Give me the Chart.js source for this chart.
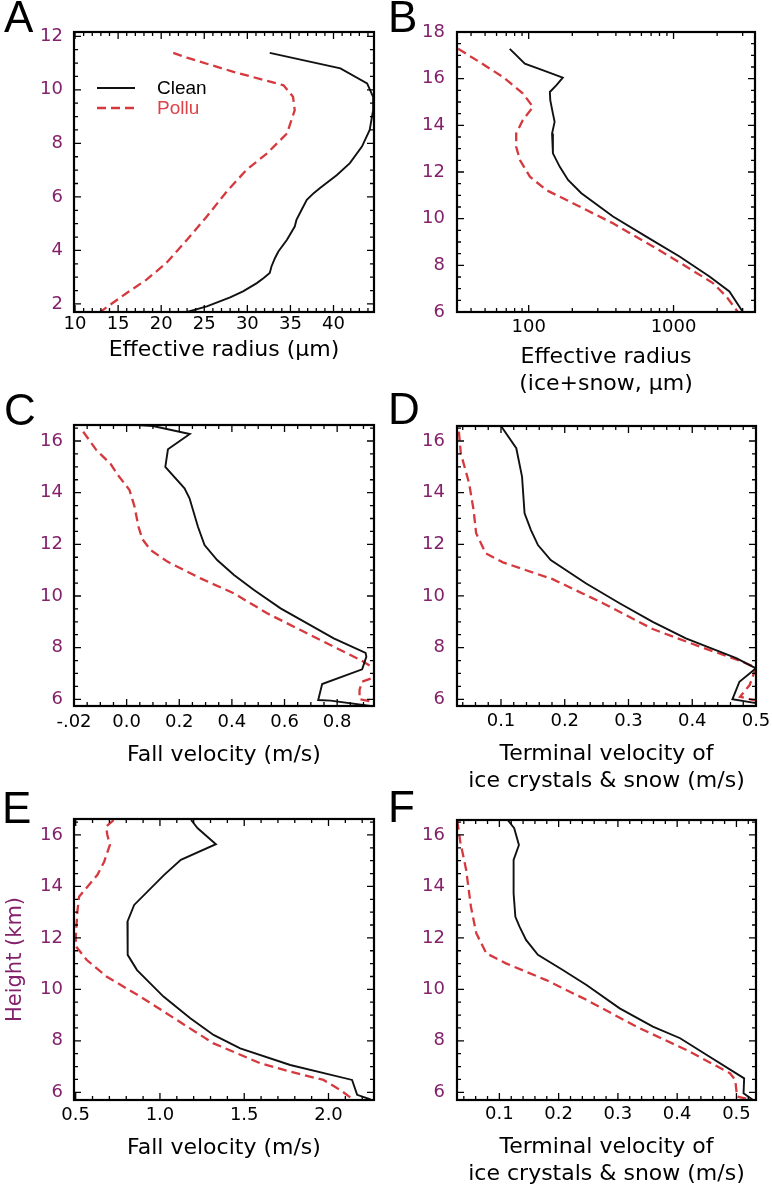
<!DOCTYPE html>
<html>
<head>
<meta charset="utf-8">
<script src="https://cdn.jsdelivr.net/npm/chart.js@4.4.1/dist/chart.umd.min.js"></script>
<style>
  body { margin: 0; background: #fff; }
  #fig { position: relative; width: 772px; height: 1194px; overflow: hidden; }
  #fig canvas { position: absolute; }
  .tag { position: absolute; font: 44px/44px "Liberation Sans", Arial, sans-serif; color: #000; }
</style>
</head>
<body>
<div id="fig">
  <canvas id="pA"></canvas>
  <canvas id="pB"></canvas>
  <canvas id="pC"></canvas>
  <canvas id="pD"></canvas>
  <canvas id="pE"></canvas>
  <canvas id="pF"></canvas>
  <div class="tag" style="left:4px; top:-5px">A</div>
  <div class="tag" style="left:388px; top:-5px">B</div>
  <div class="tag" style="left:4px; top:388px">C</div>
  <div class="tag" style="left:388px; top:387px">D</div>
  <div class="tag" style="left:2px; top:786px">E</div>
  <div class="tag" style="left:388px; top:785px">F</div>
</div>
<script>
// Profils verticaux Clean / Pollu, six panneaux A-F.
// Chaque série = paires [valeur, altitude km].

var aClean = [[32.6, 11.38], [40.8, 10.80], [43.9, 10.24], [44.6, 9.74], [44.6, 9.24], [44.2, 8.50],
  [43.3, 7.88], [41.9, 7.26], [40.4, 6.82], [38.4, 6.32], [37.7, 6.14], [36.9, 5.89], [36.3, 5.52],
  [35.7, 5.14], [35.5, 4.89], [34.6, 4.40], [33.6, 3.96], [33.2, 3.71], [32.8, 3.40], [32.6, 3.16],
  [31.9, 2.97], [31.1, 2.78], [29.5, 2.47], [28.0, 2.25], [25.3, 1.91], [23.0, 1.70]];
var aPollu = [[21.4, 11.38], [23.0, 11.20], [28.4, 10.67], [34.2, 10.17], [35.3, 9.74], [35.5, 9.24],
  [34.6, 8.37], [32.3, 7.63], [29.9, 7.01], [27.6, 6.20], [25.3, 5.27], [23.0, 4.40], [20.6, 3.53],
  [18.3, 2.91], [16.0, 2.41], [13.3, 1.79], [12.9, 1.70]];

var bClean = [[74, 17.28], [80, 17.07], [94, 16.64], [126, 16.36], [172, 16.04], [155, 15.71],
  [140, 15.43], [141, 15.07], [147, 14.50], [151, 14.15], [145, 13.65], [147, 13.08], [147, 12.80],
  [164, 12.22], [187, 11.66], [231, 11.09], [382, 10.09], [648, 9.23], [1100, 8.38], [1770, 7.52],
  [2430, 6.88], [3010, 6.00]];
var bPollu = [[32.6, 17.28], [45.9, 16.71], [66.5, 16.07], [91.4, 15.36], [107, 14.79], [91, 14.22],
  [82, 13.65], [82, 13.08], [87, 12.51], [102, 11.80], [132, 11.23], [202, 10.66], [382, 9.80],
  [720, 8.81], [1220, 7.95], [1870, 7.24], [2310, 6.67], [2780, 6.00]];

var cClean = [[0.04, 16.62], [0.10, 16.58], [0.24, 16.27], [0.157, 15.68], [0.147, 15.00], [0.22, 14.17],
  [0.239, 13.78], [0.271, 12.68], [0.296, 11.97], [0.344, 11.39], [0.408, 10.81], [0.484, 10.23],
  [0.585, 9.52], [0.686, 8.94], [0.787, 8.36], [0.908, 7.80], [0.911, 7.65], [0.895, 7.16],
  [0.743, 6.59], [0.728, 5.97], [0.775, 5.95], [0.927, 5.74]];
var cPollu = [[-0.165, 16.36], [-0.115, 15.65], [-0.06, 15.10], [-0.033, 14.68], [0.011, 14.10],
  [0.03, 13.46], [0.045, 12.68], [0.06, 12.20], [0.091, 11.78], [0.155, 11.33], [0.281, 10.68],
  [0.408, 10.10], [0.534, 9.33], [0.661, 8.68], [0.787, 8.04], [0.889, 7.52], [0.92, 7.33],
  [0.95, 7.13], [0.93, 6.81], [0.895, 6.68], [0.885, 6.36], [0.885, 6.00], [0.94, 5.90]];

var dClean = [[0.100, 16.58], [0.124, 15.72], [0.133, 14.62], [0.137, 13.20], [0.147, 12.55],
  [0.158, 11.97], [0.178, 11.39], [0.233, 10.49], [0.286, 9.72], [0.338, 9.00], [0.390, 8.36],
  [0.469, 7.59], [0.500, 7.20], [0.474, 6.68], [0.463, 6.00], [0.500, 5.85]];
var dPollu = [[0.034, 16.36], [0.037, 15.52], [0.050, 14.36], [0.057, 13.33], [0.061, 12.43],
  [0.076, 11.65], [0.103, 11.30], [0.181, 10.65], [0.260, 9.72], [0.338, 8.72], [0.416, 8.00],
  [0.474, 7.50], [0.500, 7.22], [0.490, 6.55], [0.475, 6.10], [0.500, 5.95]];

var eClean = [[1.185, 16.58], [1.224, 16.26], [1.332, 15.64], [1.124, 15.03], [1.025, 14.45],
  [0.847, 13.28], [0.807, 12.63], [0.807, 11.60], [0.81, 11.34], [0.864, 10.75], [1.021, 9.72],
  [1.180, 8.88], [1.318, 8.23], [1.476, 7.71], [1.773, 7.06], [2.14, 6.48], [2.17, 5.90], [2.25, 5.72]];
var ePollu = [[0.725, 16.58], [0.680, 16.32], [0.688, 16.00], [0.703, 15.61], [0.669, 14.96],
  [0.629, 14.45], [0.570, 13.99], [0.520, 13.60], [0.510, 13.02], [0.507, 12.70], [0.500, 12.00],
  [0.503, 11.66], [0.566, 11.14], [0.685, 10.49], [0.883, 9.72], [1.100, 8.81], [1.318, 7.90],
  [1.595, 7.13], [1.773, 6.80], [1.97, 6.48], [2.07, 6.09], [2.14, 5.75]];

var fClean = [[0.114, 16.58], [0.125, 16.26], [0.133, 15.61], [0.124, 15.03], [0.124, 13.73],
  [0.127, 12.82], [0.134, 12.44], [0.145, 11.92], [0.165, 11.34], [0.207, 10.75], [0.247, 10.17],
  [0.303, 9.26], [0.359, 8.55], [0.405, 8.10], [0.450, 7.45], [0.513, 6.54], [0.512, 5.96], [0.528, 5.70]];
var fPollu = [[0.029, 16.55], [0.030, 16.39], [0.034, 15.74], [0.044, 14.64], [0.052, 13.21],
  [0.061, 12.18], [0.078, 11.40], [0.111, 11.01], [0.179, 10.36], [0.247, 9.59], [0.331, 8.55],
  [0.416, 7.64], [0.489, 6.74], [0.498, 6.48], [0.501, 5.83], [0.518, 5.75]];

// graduations
var aRadiusTicks = [10, 15, 20, 25, 30, 35, 40];
var aHeightTicks = [2, 4, 6, 8, 10, 12];
var bRadiusTicks = [100, 1000];
var bHeightTicks = [6, 8, 10, 12, 14, 16, 18];
var cFallTicks = [-0.2, 0, 0.2, 0.4, 0.6, 0.8];
var cFallLabels = ["-.02", "0.0", "0.2", "0.4", "0.6", "0.8"];
var termTicks = [0.1, 0.2, 0.3, 0.4, 0.5];
var eFallTicks = [0.5, 1, 1.5, 2];
var eFallLabels = ["0.5", "1.0", "1.5", "2.0"];
var heightTicks = [6, 8, 10, 12, 14, 16];

var BLACK = "#111111";
var RED = "#d5393e";
var PURPLE = "#84216b";
var FAMILY = "'DejaVu Sans', sans-serif";

function pts(arr) {
  return arr.map(function (p) { return { x: p[0], y: p[1] }; });
}

// cadre noir + graduations rentrantes sur les 4 côtés
function marks(scale, minor) {
  var out = scale.ticks.map(function (t) { return [t.value, 7]; });
  if (minor === "log") {
    for (var e = Math.floor(Math.log10(scale.min)); e <= Math.ceil(Math.log10(scale.max)); e++) {
      for (var k = 2; k < 10; k++) {
        var v = k * Math.pow(10, e);
        if (v > scale.min && v < scale.max) out.push([v, 4]);
      }
    }
  } else {
    for (var i = Math.ceil(scale.min / minor); i * minor < scale.max; i++) out.push([i * minor, 4]);
  }
  return out;
}

var framePlugin = {
  id: "frame",
  afterDraw: function (chart, args, opts) {
    var ctx = chart.ctx, a = chart.chartArea;
    var xs = chart.scales.x, ys = chart.scales.y;
    ctx.save();
    ctx.strokeStyle = "#000";
    ctx.lineWidth = 1.3;
    ctx.beginPath();
    marks(xs, opts.xMinor).forEach(function (m) {
      var p = xs.getPixelForValue(m[0]);
      ctx.moveTo(p, a.bottom); ctx.lineTo(p, a.bottom - m[1]);
      ctx.moveTo(p, a.top); ctx.lineTo(p, a.top + m[1]);
    });
    marks(ys, opts.yMinor).forEach(function (m) {
      var p = ys.getPixelForValue(m[0]);
      ctx.moveTo(a.left, p); ctx.lineTo(a.left + m[1], p);
      ctx.moveTo(a.right, p); ctx.lineTo(a.right - m[1], p);
    });
    ctx.stroke();
    ctx.lineWidth = 2.2;
    ctx.strokeRect(a.left, a.top, a.right - a.left, a.bottom - a.top);
    ctx.restore();
  }
};

// légende dans la zone du panneau A
var keyPlugin = {
  id: "key",
  afterDraw: function (chart, args, opts) {
    if (!opts.show) return;
    var ctx = chart.ctx, a = chart.chartArea;
    ctx.save();
    ctx.font = "19px 'Liberation Sans', Arial, sans-serif";
    ctx.textBaseline = "middle";
    chart.data.datasets.forEach(function (ds, i) {
      var y = a.top + 56 + i * 20;
      ctx.strokeStyle = ds.borderColor;
      ctx.lineWidth = ds.borderWidth;
      ctx.setLineDash(ds.borderDash || []);
      ctx.beginPath();
      ctx.moveTo(a.left + 23, y);
      ctx.lineTo(a.left + 61, y);
      ctx.stroke();
      ctx.fillStyle = ds.label === "Pollu" ? "#dc4349" : "#000";
      ctx.fillText(ds.label, a.left + 83, y + 1);
    });
    ctx.restore();
  }
};

function panel(id, o) {
  var canvas = document.getElementById(id);
  var W = 386, H = o.titleBottom - o.top;
  canvas.width = W;
  canvas.height = H;
  canvas.style.left = o.left + "px";
  canvas.style.top = o.top + "px";
  var yWidth = o.box[0] - o.left;
  var xHeight = o.titleBottom - o.box[3];

  new Chart(canvas, {
    type: "scatter",
    data: {
      datasets: [
        { label: "Clean", data: pts(o.clean), showLine: true, borderColor: BLACK, borderWidth: 1.9,
          pointRadius: 0, tension: 0 },
        { label: "Pollu", data: pts(o.pollu), showLine: true, borderColor: RED, borderWidth: 2.3,
          borderDash: [9, 5], pointRadius: 0, tension: 0 }
      ]
    },
    options: {
      responsive: false,
      animation: false,
      events: [],
      layout: { padding: { left: 0, top: o.box[1] - o.top, right: o.left + W - o.box[2], bottom: 0 } },
      plugins: {
        legend: { display: false },
        tooltip: { enabled: false },
        frame: { xMinor: o.xMinor, yMinor: 0.5 },
        key: { show: !!o.key }
      },
      scales: {
        x: {
          type: o.xLog ? "logarithmic" : "linear",
          min: o.xMin,
          max: o.xMax,
          grid: { display: false, drawTicks: false },
          border: { display: false },
          afterBuildTicks: function (s) { s.ticks = o.xTicks.map(function (v) { return { value: v }; }); },
          afterFit: function (s) { s.height = xHeight; s.paddingLeft = 0; s.paddingRight = 0; },
          ticks: {
            color: "#000", font: { family: FAMILY, size: 18 }, padding: o.xPad,
            maxRotation: 0, autoSkip: false,
            callback: function (v, i) { return o.xLabels[i]; }
          },
          title: { display: true, text: o.xTitle, color: "#000", padding: 0,
            font: { family: FAMILY, size: 22, lineHeight: 1.2 } }
        },
        y: {
          min: o.yMin,
          max: o.yMax,
          grid: { display: false, drawTicks: false },
          border: { display: false },
          afterBuildTicks: function (s) { s.ticks = o.yTicks.map(function (v) { return { value: v }; }); },
          afterFit: function (s) { s.width = yWidth; s.paddingTop = 0; s.paddingBottom = 0; },
          ticks: { color: PURPLE, font: { family: FAMILY, size: 18 }, padding: o.yPad, autoSkip: false },
          title: { display: !!o.yTitle, text: o.yTitle || "", color: PURPLE, padding: { top: 3, bottom: 0 },
            font: { family: FAMILY, size: 21, lineHeight: 1.2 } }
        }
      }
    },
    plugins: [framePlugin, keyPlugin]
  });
}

var fmt1 = function (v) { return v.toFixed(1); };

panel("pA", {
  left: 0, top: 0, box: [74, 32, 374, 312], titleBottom: 363, xPad: 2, yPad: 11,
  clean: aClean, pollu: aPollu, key: true,
  xMin: 9.88, xMax: 44.7, xTicks: aRadiusTicks, xLabels: aRadiusTicks.map(String), xMinor: 1,
  yMin: 1.70, yMax: 12.16, yTicks: aHeightTicks,
  xTitle: "Effective radius (μm)"
});

panel("pB", {
  left: 386, top: 0, box: [457, 32, 755, 312], titleBottom: 397, xPad: 5, yPad: 12,
  clean: bClean, pollu: bPollu, xLog: true,
  xMin: 32, xMax: 3650, xTicks: bRadiusTicks, xLabels: bRadiusTicks.map(String), xMinor: "log",
  yMin: 6, yMax: 18, yTicks: bHeightTicks,
  xTitle: ["Effective radius", "(ice+snow, μm)"]
});

panel("pC", {
  left: 0, top: 370, box: [74, 425, 374, 706], titleBottom: 768, xPad: 6, yPad: 11,
  clean: cClean, pollu: cPollu,
  xMin: -0.2, xMax: 0.94, xTicks: cFallTicks, xLabels: cFallLabels, xMinor: 0.05,
  yMin: 5.74, yMax: 16.62, yTicks: heightTicks,
  xTitle: "Fall velocity (m/s)"
});

panel("pD", {
  left: 386, top: 370, box: [457, 426, 756, 706], titleBottom: 794, xPad: 5, yPad: 12,
  clean: dClean, pollu: dPollu,
  xMin: 0.031, xMax: 0.5, xTicks: termTicks, xLabels: termTicks.map(fmt1), xMinor: 0.02,
  yMin: 5.74, yMax: 16.58, yTicks: heightTicks,
  xTitle: ["Terminal velocity of", "ice crystals & snow (m/s)"]
});

panel("pE", {
  left: 0, top: 790, box: [74, 819, 374, 1100], titleBottom: 1161, xPad: 5, yPad: 11,
  clean: eClean, pollu: ePollu,
  xMin: 0.49, xMax: 2.27, xTicks: eFallTicks, xLabels: eFallLabels, xMinor: 0.1,
  yMin: 5.70, yMax: 16.62, yTicks: heightTicks,
  xTitle: "Fall velocity (m/s)", yTitle: "Height (km)"
});

panel("pF", {
  left: 386, top: 790, box: [457, 820, 756, 1100], titleBottom: 1187, xPad: 4, yPad: 12,
  clean: fClean, pollu: fPollu,
  xMin: 0.0285, xMax: 0.533, xTicks: termTicks, xLabels: termTicks.map(fmt1), xMinor: 0.02,
  yMin: 5.70, yMax: 16.58, yTicks: heightTicks,
  xTitle: ["Terminal velocity of", "ice crystals & snow (m/s)"]
});
</script>
</body>
</html>
